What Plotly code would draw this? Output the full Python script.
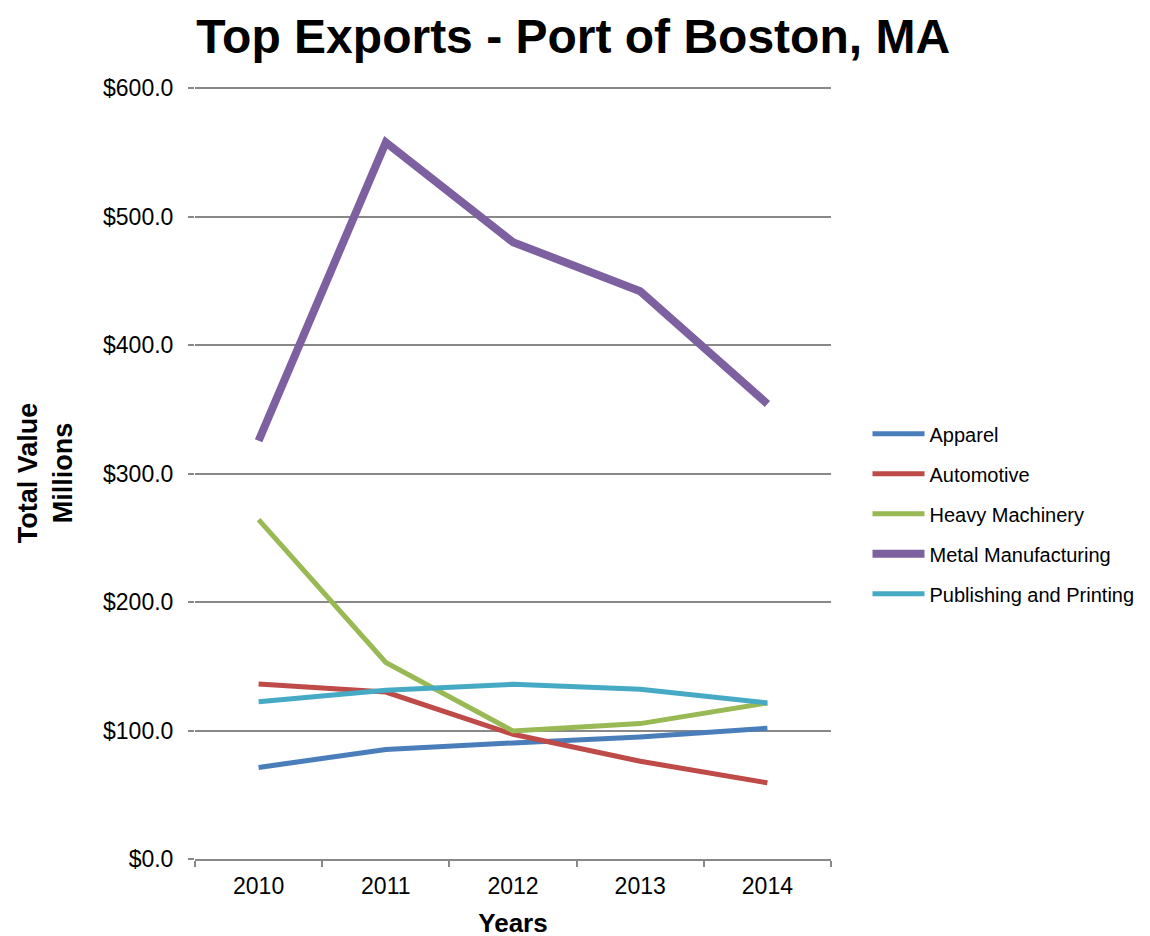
import plotly.graph_objects as go

years = ["2010", "2011", "2012", "2013", "2014"]
apparel = [71.3, 85.2, 90.4, 95.0, 101.8]
automotive = [136.2, 130.0, 97.1, 76.1, 59.3]
heavy_machinery = [264.2, 153.0, 99.7, 105.4, 121.5]
metal_manufacturing = [325.6, 557.9, 480.2, 442.0, 354.3]
publishing_printing = [122.5, 131.3, 136.0, 132.1, 121.5]

series = [
    ("Apparel", apparel, "#4A7EBB", 5),
    ("Automotive", automotive, "#BE4B48", 5),
    ("Heavy Machinery", heavy_machinery, "#98B954", 5),
    ("Metal Manufacturing", metal_manufacturing, "#7D60A0", 8),
    ("Publishing and Printing", publishing_printing, "#46AAC5", 5),
]

FONT = "Liberation Sans, Arial, sans-serif"

fig = go.Figure()
for i, (name, vals, color, w) in enumerate(series):
    fig.add_trace(go.Scatter(
        x=years, y=vals, name=name, mode="lines",
        line=dict(color=color, width=w),
        legendgroup=f"g{i}",
    ))

fig.update_layout(
    width=1150, height=936,
    margin=dict(l=187, r=327, t=79, b=85, autoexpand=False),
    paper_bgcolor="white", plot_bgcolor="white",
    font=dict(family=FONT, color="black"),
    title=dict(
        text="<b>Top Exports - Port of Boston, MA</b>",
        x=0.4915, xref="container", xanchor="center",
        y=0.970, yref="container", yanchor="middle",
        font=dict(size=48, family=FONT, color="black"),
    ),
    showlegend=True,
    legend=dict(
        x=1.0574, xanchor="left", y=0.576, yanchor="top",
        font=dict(size=20, family=FONT, color="black"),
        itemwidth=52, traceorder="grouped", tracegroupgap=11,
        bgcolor="rgba(0,0,0,0)",
    ),
    xaxis=dict(
        type="category", range=[-0.5, 4.5],
        tickson="boundaries", ticks="outside", ticklen=6,
        tickcolor="#888888", tickwidth=1.5,
        showline=True, linecolor="#888888", linewidth=1.5,
        showgrid=False, zeroline=False, automargin=False,
        tickfont=dict(size=23, family=FONT),
        ticklabelstandoff=6,
        title=dict(text="<b>Years</b>", font=dict(size=26, family=FONT), standoff=15),
    ),
    yaxis=dict(
        range=[0, 601], tickvals=[0, 100, 200, 300, 400, 500, 600], tickformat="$,.1f",
        showgrid=True, gridcolor="#888888", gridwidth=1.5,
        ticks="outside", ticklen=6, tickcolor="#888888", tickwidth=1.5,
        showline=False, zeroline=False, automargin=False,
        tickfont=dict(size=23, family=FONT),
        ticklabelstandoff=10,
        title=dict(text="<b>Total Value<br>Millions</b>", font=dict(size=27, family=FONT), standoff=22),
    ),
)

fig.write_html("out.html")
